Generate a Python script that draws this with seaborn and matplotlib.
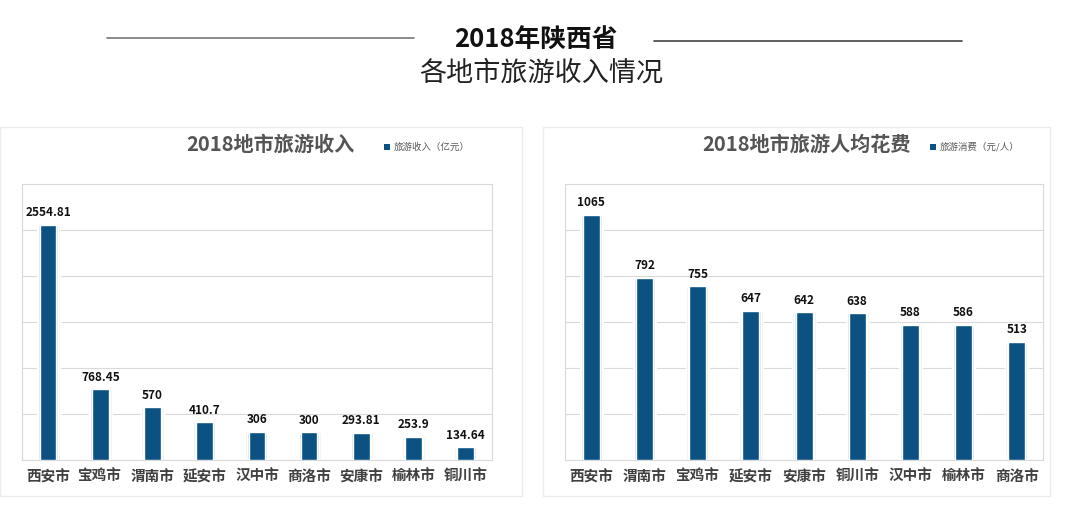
import matplotlib
matplotlib.use("Agg")
import matplotlib.pyplot as plt
import seaborn as sns
import pandas as pd
from matplotlib.patches import Rectangle
from matplotlib.lines import Line2D

sns.set_style("white")
plt.rcParams['font.family'] = ['Noto Sans CJK SC', 'DejaVu Sans']

# left chart: tourism income (100 million yuan)
income_cities = ["西安市", "宝鸡市", "渭南市", "延安市", "汉中市", "商洛市", "安康市", "榆林市", "铜川市"]
income_values = [2554.81, 768.45, 570, 410.7, 306, 300, 293.81, 253.9, 134.64]
income_labels = ["2554.81", "768.45", "570", "410.7", "306", "300", "293.81", "253.9", "134.64"]

# right chart: spending per visitor (yuan)
spend_cities = ["西安市", "渭南市", "宝鸡市", "延安市", "安康市", "铜川市", "汉中市", "榆林市", "商洛市"]
spend_values = [1065, 792, 755, 647, 642, 638, 588, 586, 513]
spend_labels = ["1065", "792", "755", "647", "642", "638", "588", "586", "513"]

BAR = "#0b5283"
GRID = "#d9d9d9"

fig = plt.figure(figsize=(10.8, 5.28), dpi=100)

# panel cards (behind the axes)
for x0, w in [(0.0, 0.483), (0.503, 0.469)]:
    fig.patches.append(Rectangle((x0, 0.061), w, 0.699, transform=fig.transFigure,
                                 facecolor="white", edgecolor="#ececec", lw=1.0, zorder=-5))

# main title with side lines
fig.text(0.496, 0.924, "2018年陕西省", ha="center", va="center", fontsize=18.5,
         fontweight="bold", color="#111111")
fig.text(0.501, 0.862, "各地市旅游收入情况", ha="center", va="center", fontsize=19.5,
         color="#222222")
fig.lines.append(Line2D([0.099, 0.383], [0.928, 0.928], transform=fig.transFigure,
                        color="#777777", lw=1.2))
fig.lines.append(Line2D([0.606, 0.891], [0.922, 0.922], transform=fig.transFigure,
                        color="#444444", lw=1.2))


def draw_panel(rect, cities, values, labels, ymax, step, title, title_x, leg_x, leg_text):
    ax = fig.add_axes(rect)
    ax.patch.set_alpha(0)
    df = pd.DataFrame({"city": cities, "value": values})
    # soft glow behind bars
    sns.barplot(data=df, x="city", y="value", color="#e6eff7", width=0.44, ax=ax,
                zorder=2, saturation=1)
    sns.barplot(data=df, x="city", y="value", color="#d3e3f0", width=0.38, ax=ax,
                zorder=2, saturation=1)
    sns.barplot(data=df, x="city", y="value", color=BAR, width=0.32, ax=ax,
                zorder=3, saturation=1)
    ax.set_ylim(0, ymax)
    ax.set_xlim(-0.5, len(cities) - 0.5)
    ax.set_yticks(range(0, ymax + 1, step))
    ax.set_yticklabels([])
    ax.tick_params(axis="y", length=0)
    ax.tick_params(axis="x", length=0, pad=6)
    ax.grid(axis="y", color=GRID, lw=0.8, zorder=0)
    ax.set_axisbelow(True)
    for s in ax.spines.values():
        s.set_color(GRID)
        s.set_linewidth(0.8)
    ax.set_xlabel("")
    ax.set_ylabel("")
    for lab in ax.get_xticklabels():
        lab.set_fontsize(10.5)
        lab.set_fontweight("bold")
        lab.set_color("#404040")
    for i, (v, t) in enumerate(zip(values, labels)):
        ax.annotate(t, (i, v), xytext=(0, 4), textcoords="offset points",
                    ha="center", va="bottom", fontsize=8.5, fontweight="bold",
                    color="#111111")
    fig.text(title_x, 0.727, title, ha="center", va="center", fontsize=14.5,
             fontweight="bold", color="#555555")
    fig.patches.append(Rectangle((leg_x, 0.716), 0.0055, 0.011, transform=fig.transFigure,
                                 facecolor=BAR, edgecolor="none"))
    fig.text(leg_x + 0.009, 0.722, leg_text, ha="left", va="center", fontsize=6.8,
             color="#595959")
    return ax


draw_panel([0.0204, 0.129, 0.435, 0.523], income_cities, income_values, income_labels,
           3000, 500, "2018地市旅游收入", 0.25, 0.356, "旅游收入（亿元）")
draw_panel([0.523, 0.129, 0.443, 0.523], spend_cities, spend_values, spend_labels,
           1200, 200, "2018地市旅游人均花费", 0.747, 0.861, "旅游消费（元/人）")

fig.savefig("out.png", dpi=100, facecolor="white")
